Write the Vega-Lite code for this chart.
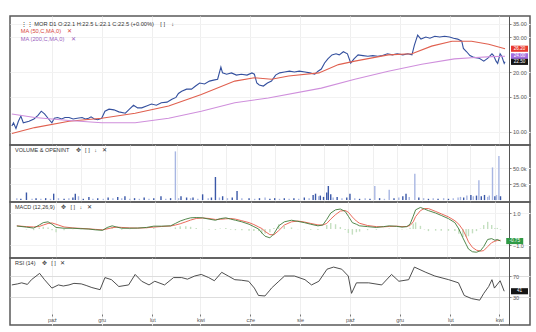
{
  "$schema": "https://vega.github.io/schema/vega-lite/v6.json",
  "padding": {"left": 8, "top": 15, "right": 0, "bottom": 0},
  "spacing": 0,
  "bounds": "flush",
  "resolve": {"scale": {"color": "independent", "fill": "independent"}, "legend": {"color": "independent", "fill": "independent"}},
  "config": {
    "view": {"stroke": "#5a5a5a", "strokeWidth": 1.5},
    "font": "Liberation Sans",
    "axis": {"labelFont": "Liberation Sans", "labelFontSize": 5.5, "labelColor": "#555555", "gridColor": "#eeeeee", "tickColor": "#888888", "domainColor": "#555555"}
  },
  "datasets": {
    "price": [
      {"date":"2022-08-13","series":"MOR","value":10.7},{"date":"2022-08-15","series":"MOR","value":11.1},{"date":"2022-08-18","series":"MOR","value":10.4},{"date":"2022-08-21","series":"MOR","value":11.3},{"date":"2022-08-24","series":"MOR","value":12.0},{"date":"2022-08-27","series":"MOR","value":11.1},{"date":"2022-09-03","series":"MOR","value":11.3},{"date":"2022-09-09","series":"MOR","value":11.6},{"date":"2022-09-14","series":"MOR","value":12.1},{"date":"2022-09-18","series":"MOR","value":12.7},{"date":"2022-09-22","series":"MOR","value":12.3},{"date":"2022-09-27","series":"MOR","value":11.6},{"date":"2022-10-01","series":"MOR","value":11.1},{"date":"2022-10-04","series":"MOR","value":11.7},{"date":"2022-10-08","series":"MOR","value":11.8},{"date":"2022-10-13","series":"MOR","value":11.6},{"date":"2022-10-17","series":"MOR","value":11.8},{"date":"2022-10-22","series":"MOR","value":11.8},{"date":"2022-10-27","series":"MOR","value":11.6},{"date":"2022-11-01","series":"MOR","value":11.7},{"date":"2022-11-07","series":"MOR","value":11.8},{"date":"2022-11-11","series":"MOR","value":11.6},{"date":"2022-11-15","series":"MOR","value":11.7},{"date":"2022-11-18","series":"MOR","value":11.9},{"date":"2022-11-22","series":"MOR","value":11.6},{"date":"2022-11-26","series":"MOR","value":11.5},{"date":"2022-12-01","series":"MOR","value":11.7},{"date":"2022-12-05","series":"MOR","value":12.7},{"date":"2022-12-10","series":"MOR","value":13.0},{"date":"2022-12-16","series":"MOR","value":12.9},{"date":"2022-12-22","series":"MOR","value":12.6},{"date":"2022-12-30","series":"MOR","value":12.4},{"date":"2023-01-04","series":"MOR","value":13.0},{"date":"2023-01-09","series":"MOR","value":13.6},{"date":"2023-01-14","series":"MOR","value":13.2},{"date":"2023-01-19","series":"MOR","value":13.2},{"date":"2023-01-25","series":"MOR","value":13.5},{"date":"2023-01-31","series":"MOR","value":13.8},{"date":"2023-02-06","series":"MOR","value":13.6},{"date":"2023-02-12","series":"MOR","value":14.0},{"date":"2023-02-19","series":"MOR","value":14.1},{"date":"2023-02-25","series":"MOR","value":14.6},{"date":"2023-03-02","series":"MOR","value":14.9},{"date":"2023-03-05","series":"MOR","value":15.6},{"date":"2023-03-09","series":"MOR","value":16.0},{"date":"2023-03-15","series":"MOR","value":16.4},{"date":"2023-03-21","series":"MOR","value":16.4},{"date":"2023-03-26","series":"MOR","value":17.0},{"date":"2023-03-31","series":"MOR","value":17.6},{"date":"2023-04-06","series":"MOR","value":17.4},{"date":"2023-04-12","series":"MOR","value":18.0},{"date":"2023-04-17","series":"MOR","value":18.2},{"date":"2023-04-22","series":"MOR","value":18.4},{"date":"2023-04-26","series":"MOR","value":21.2},{"date":"2023-04-28","series":"MOR","value":19.8},{"date":"2023-05-03","series":"MOR","value":19.5},{"date":"2023-05-09","series":"MOR","value":19.8},{"date":"2023-05-15","series":"MOR","value":19.3},{"date":"2023-05-21","series":"MOR","value":19.5},{"date":"2023-05-28","series":"MOR","value":19.3},{"date":"2023-06-03","series":"MOR","value":19.8},{"date":"2023-06-06","series":"MOR","value":19.5},{"date":"2023-06-09","series":"MOR","value":17.6},{"date":"2023-06-12","series":"MOR","value":17.2},{"date":"2023-06-17","series":"MOR","value":17.0},{"date":"2023-06-22","series":"MOR","value":17.6},{"date":"2023-06-27","series":"MOR","value":18.0},{"date":"2023-07-02","series":"MOR","value":19.3},{"date":"2023-07-07","series":"MOR","value":19.8},{"date":"2023-07-13","series":"MOR","value":20.0},{"date":"2023-07-19","series":"MOR","value":20.2},{"date":"2023-07-25","series":"MOR","value":20.0},{"date":"2023-07-31","series":"MOR","value":20.2},{"date":"2023-08-07","series":"MOR","value":20.0},{"date":"2023-08-13","series":"MOR","value":19.8},{"date":"2023-08-19","series":"MOR","value":19.5},{"date":"2023-08-23","series":"MOR","value":20.2},{"date":"2023-08-27","series":"MOR","value":20.7},{"date":"2023-08-31","series":"MOR","value":22.2},{"date":"2023-09-04","series":"MOR","value":23.3},{"date":"2023-09-09","series":"MOR","value":24.4},{"date":"2023-09-14","series":"MOR","value":24.7},{"date":"2023-09-18","series":"MOR","value":24.4},{"date":"2023-09-23","series":"MOR","value":25.3},{"date":"2023-09-28","series":"MOR","value":24.7},{"date":"2023-10-02","series":"MOR","value":22.2},{"date":"2023-10-06","series":"MOR","value":23.3},{"date":"2023-10-11","series":"MOR","value":24.4},{"date":"2023-10-17","series":"MOR","value":24.2},{"date":"2023-10-23","series":"MOR","value":24.0},{"date":"2023-10-29","series":"MOR","value":24.2},{"date":"2023-11-04","series":"MOR","value":24.0},{"date":"2023-11-10","series":"MOR","value":24.2},{"date":"2023-11-16","series":"MOR","value":24.7},{"date":"2023-11-22","series":"MOR","value":24.4},{"date":"2023-11-28","series":"MOR","value":24.7},{"date":"2023-12-05","series":"MOR","value":24.4},{"date":"2023-12-11","series":"MOR","value":24.7},{"date":"2023-12-16","series":"MOR","value":24.4},{"date":"2023-12-19","series":"MOR","value":27.3},{"date":"2023-12-23","series":"MOR","value":30.7},{"date":"2023-12-27","series":"MOR","value":29.3},{"date":"2024-01-02","series":"MOR","value":30.0},{"date":"2024-01-07","series":"MOR","value":29.6},{"date":"2024-01-13","series":"MOR","value":30.3},{"date":"2024-01-19","series":"MOR","value":30.0},{"date":"2024-01-25","series":"MOR","value":30.3},{"date":"2024-01-31","series":"MOR","value":30.0},{"date":"2024-02-05","series":"MOR","value":29.6},{"date":"2024-02-10","series":"MOR","value":29.3},{"date":"2024-02-15","series":"MOR","value":28.6},{"date":"2024-02-17","series":"MOR","value":26.3},{"date":"2024-02-21","series":"MOR","value":25.3},{"date":"2024-02-25","series":"MOR","value":24.2},{"date":"2024-03-01","series":"MOR","value":23.7},{"date":"2024-03-07","series":"MOR","value":23.5},{"date":"2024-03-13","series":"MOR","value":22.7},{"date":"2024-03-18","series":"MOR","value":23.5},{"date":"2024-03-23","series":"MOR","value":24.7},{"date":"2024-03-25","series":"MOR","value":24.2},{"date":"2024-03-28","series":"MOR","value":22.7},{"date":"2024-03-30","series":"MOR","value":22.1},{"date":"2024-04-02","series":"MOR","value":24.7},{"date":"2024-04-04","series":"MOR","value":24.0},{"date":"2024-04-07","series":"MOR","value":22.1},{"date":"2024-04-08","series":"MOR","value":22.5},
      {"date":"2022-08-13","series":"MA50","value":9.8},{"date":"2022-09-10","series":"MA50","value":10.5},{"date":"2022-10-22","series":"MA50","value":11.3},{"date":"2022-12-01","series":"MA50","value":11.7},{"date":"2023-01-11","series":"MA50","value":12.4},{"date":"2023-02-21","series":"MA50","value":13.5},{"date":"2023-04-02","series":"MA50","value":15.4},{"date":"2023-05-13","series":"MA50","value":18.0},{"date":"2023-06-06","series":"MA50","value":18.7},{"date":"2023-06-27","series":"MA50","value":18.4},{"date":"2023-07-18","series":"MA50","value":19.1},{"date":"2023-08-24","series":"MA50","value":19.8},{"date":"2023-09-17","series":"MA50","value":21.8},{"date":"2023-10-07","series":"MA50","value":22.7},{"date":"2023-11-17","series":"MA50","value":24.4},{"date":"2023-12-16","series":"MA50","value":24.7},{"date":"2024-01-09","series":"MA50","value":27.0},{"date":"2024-02-03","series":"MA50","value":28.6},{"date":"2024-02-27","series":"MA50","value":28.6},{"date":"2024-03-19","series":"MA50","value":27.6},{"date":"2024-04-08","series":"MA50","value":26.2},
      {"date":"2022-08-13","series":"MA200","value":12.3},{"date":"2022-09-10","series":"MA200","value":11.8},{"date":"2022-10-22","series":"MA200","value":11.4},{"date":"2022-12-01","series":"MA200","value":11.1},{"date":"2023-01-11","series":"MA200","value":11.1},{"date":"2023-02-21","series":"MA200","value":11.7},{"date":"2023-04-02","series":"MA200","value":12.7},{"date":"2023-05-13","series":"MA200","value":14.0},{"date":"2023-06-23","series":"MA200","value":14.8},{"date":"2023-08-27","series":"MA200","value":16.6},{"date":"2023-10-07","series":"MA200","value":18.4},{"date":"2023-11-17","series":"MA200","value":20.2},{"date":"2023-12-28","series":"MA200","value":21.9},{"date":"2024-02-06","series":"MA200","value":23.3},{"date":"2024-02-27","series":"MA200","value":23.6},{"date":"2024-03-23","series":"MA200","value":23.9},{"date":"2024-04-08","series":"MA200","value":24.0}
    ],
    "priceTags": [
      {"tag":"tMA50","value":26.2,"label":"26.20"},
      {"tag":"tMA200","value":24.0,"label":"24.00"},
      {"tag":"tMOR","value":22.5,"label":"22.50"}
    ],
    "volume": [
      {"date":"2022-08-13","v":3000,"dir":"down"},{"date":"2022-08-18","v":2000,"dir":"up"},{"date":"2022-08-25","v":12000,"dir":"up"},{"date":"2022-09-01","v":2000,"dir":"down"},{"date":"2022-09-06","v":3000,"dir":"up"},{"date":"2022-09-12","v":2000,"dir":"down"},{"date":"2022-09-18","v":3000,"dir":"up"},{"date":"2022-09-24","v":2000,"dir":"down"},{"date":"2022-09-28","v":10000,"dir":"up"},{"date":"2022-10-04","v":3000,"dir":"down"},{"date":"2022-10-11","v":2000,"dir":"up"},{"date":"2022-10-17","v":3000,"dir":"down"},{"date":"2022-10-22","v":4000,"dir":"up"},{"date":"2022-10-25","v":10000,"dir":"up"},{"date":"2022-10-29","v":6000,"dir":"down"},{"date":"2022-11-04","v":2000,"dir":"up"},{"date":"2022-11-11","v":5000,"dir":"up"},{"date":"2022-11-16","v":2000,"dir":"down"},{"date":"2022-11-22","v":3000,"dir":"up"},{"date":"2022-11-29","v":2000,"dir":"down"},{"date":"2022-12-05","v":4000,"dir":"up"},{"date":"2022-12-11","v":3000,"dir":"down"},{"date":"2022-12-17","v":5000,"dir":"up"},{"date":"2022-12-22","v":3000,"dir":"down"},{"date":"2022-12-26","v":6000,"dir":"up"},{"date":"2023-01-01","v":2000,"dir":"down"},{"date":"2023-01-07","v":3000,"dir":"up"},{"date":"2023-01-13","v":2000,"dir":"down"},{"date":"2023-01-19","v":4000,"dir":"up"},{"date":"2023-01-25","v":2000,"dir":"down"},{"date":"2023-01-31","v":3000,"dir":"up"},{"date":"2023-02-09","v":6000,"dir":"up"},{"date":"2023-02-15","v":2000,"dir":"down"},{"date":"2023-02-21","v":3000,"dir":"up"},{"date":"2023-02-27","v":76000,"dir":"down"},{"date":"2023-03-03","v":3000,"dir":"down"},{"date":"2023-03-06","v":6000,"dir":"up"},{"date":"2023-03-13","v":4000,"dir":"up"},{"date":"2023-03-18","v":3000,"dir":"down"},{"date":"2023-03-21","v":4000,"dir":"up"},{"date":"2023-03-27","v":2000,"dir":"down"},{"date":"2023-04-02","v":9000,"dir":"up"},{"date":"2023-04-09","v":3000,"dir":"down"},{"date":"2023-04-13","v":4000,"dir":"up"},{"date":"2023-04-18","v":36000,"dir":"up"},{"date":"2023-04-23","v":4000,"dir":"down"},{"date":"2023-04-27","v":6000,"dir":"up"},{"date":"2023-05-03","v":3000,"dir":"down"},{"date":"2023-05-09","v":4000,"dir":"up"},{"date":"2023-05-15","v":14000,"dir":"up"},{"date":"2023-05-21","v":3000,"dir":"down"},{"date":"2023-05-30","v":3000,"dir":"up"},{"date":"2023-06-06","v":2000,"dir":"down"},{"date":"2023-06-12","v":3000,"dir":"up"},{"date":"2023-06-19","v":4000,"dir":"down"},{"date":"2023-06-25","v":2000,"dir":"up"},{"date":"2023-07-01","v":3000,"dir":"up"},{"date":"2023-07-07","v":2000,"dir":"down"},{"date":"2023-07-13","v":3000,"dir":"up"},{"date":"2023-07-19","v":2000,"dir":"down"},{"date":"2023-07-25","v":3000,"dir":"up"},{"date":"2023-07-31","v":2000,"dir":"down"},{"date":"2023-08-07","v":4000,"dir":"up"},{"date":"2023-08-13","v":3000,"dir":"down"},{"date":"2023-08-18","v":8000,"dir":"up"},{"date":"2023-08-21","v":10000,"dir":"up"},{"date":"2023-08-25","v":6000,"dir":"down"},{"date":"2023-08-27","v":7000,"dir":"up"},{"date":"2023-08-31","v":5000,"dir":"up"},{"date":"2023-09-04","v":12000,"dir":"up"},{"date":"2023-09-06","v":22000,"dir":"up"},{"date":"2023-09-09","v":9000,"dir":"up"},{"date":"2023-09-12","v":4000,"dir":"down"},{"date":"2023-09-17","v":5000,"dir":"up"},{"date":"2023-09-23","v":3000,"dir":"down"},{"date":"2023-09-29","v":4000,"dir":"up"},{"date":"2023-10-03","v":10000,"dir":"up"},{"date":"2023-10-09","v":3000,"dir":"down"},{"date":"2023-10-15","v":2000,"dir":"up"},{"date":"2023-10-22","v":3000,"dir":"down"},{"date":"2023-10-28","v":2000,"dir":"up"},{"date":"2023-11-03","v":22000,"dir":"down"},{"date":"2023-11-09","v":3000,"dir":"up"},{"date":"2023-11-15","v":2000,"dir":"down"},{"date":"2023-11-21","v":16000,"dir":"down"},{"date":"2023-11-27","v":3000,"dir":"up"},{"date":"2023-12-03","v":4000,"dir":"down"},{"date":"2023-12-08","v":6000,"dir":"up"},{"date":"2023-12-12","v":10000,"dir":"up"},{"date":"2023-12-16","v":5000,"dir":"down"},{"date":"2023-12-23","v":41000,"dir":"down"},{"date":"2023-12-28","v":4000,"dir":"up"},{"date":"2024-01-03","v":3000,"dir":"down"},{"date":"2024-01-09","v":2000,"dir":"up"},{"date":"2024-01-15","v":3000,"dir":"down"},{"date":"2024-01-21","v":2000,"dir":"up"},{"date":"2024-01-28","v":3000,"dir":"down"},{"date":"2024-02-03","v":2000,"dir":"up"},{"date":"2024-02-09","v":3000,"dir":"down"},{"date":"2024-02-15","v":4000,"dir":"down"},{"date":"2024-02-18","v":5000,"dir":"down"},{"date":"2024-02-22","v":4000,"dir":"up"},{"date":"2024-02-26","v":7000,"dir":"down"},{"date":"2024-03-02","v":8000,"dir":"up"},{"date":"2024-03-05","v":6000,"dir":"down"},{"date":"2024-03-09","v":7000,"dir":"up"},{"date":"2024-03-12","v":31000,"dir":"down"},{"date":"2024-03-15","v":6000,"dir":"up"},{"date":"2024-03-19","v":8000,"dir":"up"},{"date":"2024-03-23","v":5000,"dir":"down"},{"date":"2024-03-25","v":7000,"dir":"down"},{"date":"2024-03-29","v":51000,"dir":"down"},{"date":"2024-04-01","v":6000,"dir":"up"},{"date":"2024-04-03","v":8000,"dir":"down"},{"date":"2024-04-06","v":69000,"dir":"down"},{"date":"2024-04-08","v":6000,"dir":"up"}
    ],
    "macd": [
      {"date":"2022-08-13","macd":0.19,"signal":0.20,"hist":-0.01},{"date":"2022-08-25","macd":0.12,"signal":0.15,"hist":-0.03},{"date":"2022-09-03","macd":0.06,"signal":0.13,"hist":-0.07},{"date":"2022-09-10","macd":0.25,"signal":0.16,"hist":0.09},{"date":"2022-09-15","macd":0.40,"signal":0.25,"hist":0.15},{"date":"2022-09-21","macd":0.45,"signal":0.35,"hist":0.10},{"date":"2022-09-26","macd":0.30,"signal":0.38,"hist":-0.08},{"date":"2022-10-01","macd":0.10,"signal":0.30,"hist":-0.20},{"date":"2022-10-11","macd":0.05,"signal":0.13,"hist":-0.08},{"date":"2022-10-22","macd":0.05,"signal":0.07,"hist":-0.02},{"date":"2022-11-01","macd":0.02,"signal":0.04,"hist":-0.02},{"date":"2022-11-11","macd":0.00,"signal":0.01,"hist":-0.01},{"date":"2022-11-19","macd":-0.05,"signal":-0.02,"hist":-0.03},{"date":"2022-11-28","macd":-0.08,"signal":-0.05,"hist":-0.03},{"date":"2022-12-04","macd":0.10,"signal":0.01,"hist":0.09},{"date":"2022-12-10","macd":0.20,"signal":0.08,"hist":0.12},{"date":"2022-12-16","macd":0.12,"signal":0.12,"hist":0.00},{"date":"2022-12-22","macd":0.05,"signal":0.10,"hist":-0.05},{"date":"2023-01-01","macd":0.05,"signal":0.07,"hist":-0.02},{"date":"2023-01-11","macd":0.06,"signal":0.06,"hist":0.00},{"date":"2023-01-22","macd":0.10,"signal":0.08,"hist":0.02},{"date":"2023-01-31","macd":0.18,"signal":0.12,"hist":0.06},{"date":"2023-02-10","macd":0.18,"signal":0.16,"hist":0.02},{"date":"2023-02-21","macd":0.20,"signal":0.19,"hist":0.01},{"date":"2023-02-27","macd":0.35,"signal":0.25,"hist":0.10},{"date":"2023-03-05","macd":0.50,"signal":0.33,"hist":0.17},{"date":"2023-03-12","macd":0.62,"signal":0.45,"hist":0.17},{"date":"2023-03-18","macd":0.70,"signal":0.56,"hist":0.14},{"date":"2023-03-25","macd":0.72,"signal":0.66,"hist":0.06},{"date":"2023-04-02","macd":0.70,"signal":0.69,"hist":0.01},{"date":"2023-04-10","macd":0.62,"signal":0.66,"hist":-0.04},{"date":"2023-04-18","macd":0.55,"signal":0.60,"hist":-0.05},{"date":"2023-04-24","macd":0.65,"signal":0.61,"hist":0.04},{"date":"2023-05-01","macd":0.70,"signal":0.64,"hist":0.06},{"date":"2023-05-07","macd":0.62,"signal":0.66,"hist":-0.04},{"date":"2023-05-13","macd":0.55,"signal":0.62,"hist":-0.07},{"date":"2023-05-21","macd":0.45,"signal":0.52,"hist":-0.07},{"date":"2023-05-30","macd":0.30,"signal":0.40,"hist":-0.10},{"date":"2023-06-05","macd":0.15,"signal":0.28,"hist":-0.13},{"date":"2023-06-11","macd":0.00,"signal":0.13,"hist":-0.13},{"date":"2023-06-15","macd":-0.25,"signal":0.03,"hist":-0.28},{"date":"2023-06-19","macd":-0.45,"signal":-0.15,"hist":-0.30},{"date":"2023-06-25","macd":-0.55,"signal":-0.35,"hist":-0.20},{"date":"2023-06-30","macd":-0.30,"signal":-0.36,"hist":0.06},{"date":"2023-07-06","macd":0.20,"signal":-0.10,"hist":0.30},{"date":"2023-07-13","macd":0.45,"signal":0.25,"hist":0.20},{"date":"2023-07-22","macd":0.55,"signal":0.45,"hist":0.10},{"date":"2023-07-30","macd":0.48,"signal":0.50,"hist":-0.02},{"date":"2023-08-07","macd":0.40,"signal":0.44,"hist":-0.04},{"date":"2023-08-15","macd":0.30,"signal":0.35,"hist":-0.05},{"date":"2023-08-24","macd":0.20,"signal":0.26,"hist":-0.06},{"date":"2023-08-30","macd":0.25,"signal":0.25,"hist":0.00},{"date":"2023-09-04","macd":0.60,"signal":0.35,"hist":0.25},{"date":"2023-09-09","macd":1.00,"signal":0.62,"hist":0.38},{"date":"2023-09-15","macd":1.20,"signal":0.90,"hist":0.30},{"date":"2023-09-21","macd":1.25,"signal":1.12,"hist":0.13},{"date":"2023-09-27","macd":1.10,"signal":1.16,"hist":-0.06},{"date":"2023-10-01","macd":0.80,"signal":1.05,"hist":-0.25},{"date":"2023-10-06","macd":0.40,"signal":0.75,"hist":-0.35},{"date":"2023-10-11","macd":0.30,"signal":0.50,"hist":-0.20},{"date":"2023-10-15","macd":0.20,"signal":0.36,"hist":-0.16},{"date":"2023-10-25","macd":0.15,"signal":0.22,"hist":-0.07},{"date":"2023-11-05","macd":0.10,"signal":0.15,"hist":-0.05},{"date":"2023-11-14","macd":0.15,"signal":0.14,"hist":0.01},{"date":"2023-11-21","macd":0.20,"signal":0.16,"hist":0.04},{"date":"2023-11-30","macd":0.17,"signal":0.18,"hist":-0.01},{"date":"2023-12-07","macd":0.12,"signal":0.15,"hist":-0.03},{"date":"2023-12-13","macd":0.15,"signal":0.16,"hist":-0.01},{"date":"2023-12-17","macd":0.30,"signal":0.22,"hist":0.08},{"date":"2023-12-21","macd":0.80,"signal":0.45,"hist":0.35},{"date":"2023-12-24","macd":1.20,"signal":0.78,"hist":0.42},{"date":"2023-12-30","macd":1.35,"signal":1.15,"hist":0.20},{"date":"2024-01-04","macd":1.25,"signal":1.28,"hist":-0.03},{"date":"2024-01-09","macd":1.15,"signal":1.28,"hist":-0.13},{"date":"2024-01-18","macd":1.00,"signal":1.10,"hist":-0.10},{"date":"2024-01-25","macd":0.85,"signal":0.95,"hist":-0.10},{"date":"2024-02-03","macd":0.65,"signal":0.76,"hist":-0.11},{"date":"2024-02-11","macd":0.40,"signal":0.52,"hist":-0.12},{"date":"2024-02-16","macd":0.00,"signal":0.30,"hist":-0.30},{"date":"2024-02-21","macd":-0.55,"signal":-0.05,"hist":-0.50},{"date":"2024-02-25","macd":-0.95,"signal":-0.45,"hist":-0.50},{"date":"2024-02-28","macd":-1.25,"signal":-0.80,"hist":-0.45},{"date":"2024-03-04","macd":-1.42,"signal":-1.15,"hist":-0.27},{"date":"2024-03-09","macd":-1.45,"signal":-1.32,"hist":-0.13},{"date":"2024-03-14","macd":-1.35,"signal":-1.38,"hist":0.03},{"date":"2024-03-18","macd":-1.10,"signal":-1.35,"hist":0.25},{"date":"2024-03-23","macd":-0.65,"signal":-1.10,"hist":0.45},{"date":"2024-03-28","macd":-0.60,"signal":-0.85,"hist":0.25},{"date":"2024-04-01","macd":-0.70,"signal":-0.76,"hist":0.06},{"date":"2024-04-04","macd":-0.65,"signal":-0.72,"hist":0.07},{"date":"2024-04-08","macd":-0.75,"signal":-0.70,"hist":-0.05}
    ],
    "macdTag": [{"value":-0.75,"label":"-0.75"}],
    "rsi": [
      {"date":"2022-08-13","rsi":53},{"date":"2022-08-20","rsi":55},{"date":"2022-08-25","rsi":57},{"date":"2022-09-01","rsi":54},{"date":"2022-09-06","rsi":63},{"date":"2022-09-16","rsi":75},{"date":"2022-09-22","rsi":63},{"date":"2022-10-01","rsi":47},{"date":"2022-10-09","rsi":53},{"date":"2022-10-15","rsi":51},{"date":"2022-10-22","rsi":53},{"date":"2022-10-28","rsi":56},{"date":"2022-11-06","rsi":55},{"date":"2022-11-12","rsi":52},{"date":"2022-11-19","rsi":48},{"date":"2022-11-29","rsi":44},{"date":"2022-12-05","rsi":67},{"date":"2022-12-13","rsi":63},{"date":"2022-12-22","rsi":50},{"date":"2023-01-03","rsi":53},{"date":"2023-01-11","rsi":73},{"date":"2023-01-19","rsi":60},{"date":"2023-01-28","rsi":53},{"date":"2023-02-04","rsi":60},{"date":"2023-02-16","rsi":53},{"date":"2023-02-27","rsi":67},{"date":"2023-03-09","rsi":67},{"date":"2023-03-16","rsi":64},{"date":"2023-03-25","rsi":70},{"date":"2023-04-02","rsi":73},{"date":"2023-04-11","rsi":67},{"date":"2023-04-18","rsi":61},{"date":"2023-04-27","rsi":77},{"date":"2023-05-05","rsi":70},{"date":"2023-05-13","rsi":63},{"date":"2023-05-21","rsi":62},{"date":"2023-05-30","rsi":60},{"date":"2023-06-06","rsi":47},{"date":"2023-06-11","rsi":33},{"date":"2023-06-19","rsi":32},{"date":"2023-06-25","rsi":43},{"date":"2023-06-27","rsi":47},{"date":"2023-07-06","rsi":60},{"date":"2023-07-13","rsi":70},{"date":"2023-07-25","rsi":70},{"date":"2023-08-07","rsi":63},{"date":"2023-08-15","rsi":53},{"date":"2023-08-24","rsi":60},{"date":"2023-09-03","rsi":83},{"date":"2023-09-11","rsi":87},{"date":"2023-09-21","rsi":83},{"date":"2023-09-29","rsi":70},{"date":"2023-10-03","rsi":37},{"date":"2023-10-09","rsi":57},{"date":"2023-10-24","rsi":57},{"date":"2023-11-09","rsi":53},{"date":"2023-11-21","rsi":73},{"date":"2023-11-30","rsi":60},{"date":"2023-12-12","rsi":63},{"date":"2023-12-19","rsi":87},{"date":"2024-01-02","rsi":77},{"date":"2024-01-13","rsi":70},{"date":"2024-01-30","rsi":63},{"date":"2024-02-11","rsi":57},{"date":"2024-02-18","rsi":33},{"date":"2024-02-27","rsi":27},{"date":"2024-03-08","rsi":24},{"date":"2024-03-13","rsi":37},{"date":"2024-03-19","rsi":50},{"date":"2024-03-23","rsi":63},{"date":"2024-03-26","rsi":47},{"date":"2024-04-02","rsi":61},{"date":"2024-04-07","rsi":41}
    ],
    "rsiTag": [{"value":41,"label":"41"}]
  },
  "vconcat": [
    {
      "width": 520, "height": 129,
      "layer": [
        {
          "data": {"name": "price"},
          "mark": {"type": "line", "strokeWidth": 1.1},
          "encoding": {
            "x": {"field": "date", "type": "temporal",
              "scale": {"type": "utc", "nice": false, "domain": [{"year":2022,"month":8,"date":10,"hours":17,"utc":true},{"year":2024,"month":5,"date":8,"hours":14,"utc":true}]},
              "axis": {"title": null, "labels": false, "ticks": false, "domain": false, "grid": true, "gridColor": "#efefef",
                "values": [{"year":2022,"month":10,"date":1,"utc":true},{"year":2022,"month":11,"date":1,"utc":true},{"year":2022,"month":12,"date":1,"utc":true},{"year":2023,"month":1,"date":1,"utc":true},{"year":2023,"month":2,"date":1,"utc":true},{"year":2023,"month":3,"date":1,"utc":true},{"year":2023,"month":4,"date":1,"utc":true},{"year":2023,"month":5,"date":1,"utc":true},{"year":2023,"month":6,"date":1,"utc":true},{"year":2023,"month":7,"date":1,"utc":true},{"year":2023,"month":8,"date":1,"utc":true},{"year":2023,"month":9,"date":1,"utc":true},{"year":2023,"month":10,"date":1,"utc":true},{"year":2023,"month":11,"date":1,"utc":true},{"year":2023,"month":12,"date":1,"utc":true},{"year":2024,"month":1,"date":1,"utc":true},{"year":2024,"month":2,"date":1,"utc":true},{"year":2024,"month":3,"date":1,"utc":true},{"year":2024,"month":4,"date":1,"utc":true}]}},
            "y": {"field": "value", "type": "quantitative",
              "scale": {"type": "log", "domain": [8.58, 38.3], "nice": false, "zero": false},
              "axis": {"title": null, "orient": "right", "offset": -21, "values": [10, 15, 20, 30, 35], "format": ".2f", "grid": true, "gridColor": "#f2f2f2", "tickSize": 2, "labelPadding": 1.5}},
            "color": {"field": "series", "type": "nominal",
              "scale": {"domain": ["MOR", "MA50", "MA200"], "range": ["#34509e", "#e0604f", "#cf8fdc"]},
              "legend": {"orient": "top-left", "offset": 5, "title": null, "padding": 0,
                "symbolSize": 0, "symbolOpacity": 0, "symbolStrokeWidth": 0, "labelOffset": 0,
                "labelFont": "Liberation Sans", "labelFontSize": 5.7, "labelLimit": 400, "rowPadding": 0.5,
                "labelExpr": "datum.value == 'MOR' ? '⋮⋮ MOR D1 O:22.1 H:22.5 L:22.1 C:22.5 (+0.00%)\u00a0\u00a0\u00a0\u00a0[ ]\u00a0\u00a0\u00a0\u00a0↓' : datum.value == 'MA50' ? 'MA (50,C,MA,0)\u00a0\u00a0\u00a0\u00a0✕' : 'MA (200,C,MA,0)\u00a0\u00a0\u00a0\u00a0✕'",
                "encode": {"labels": {"update": {"fill": {"signal": "datum.value == 'MOR' ? '#333333' : datum.value == 'MA50' ? '#d9463b' : '#9b5fc0'"}}}}}}
          }
        },
        {
          "data": {"name": "priceTags"},
          "mark": {"type": "point", "shape": "M-1,-0.36H1V0.36H-1Z", "size": 289, "filled": true, "opacity": 1, "strokeWidth": 0},
          "encoding": {
            "x": {"datum": {"year":2024,"month":4,"date":25,"hours":18,"utc":true}, "type": "temporal"},
            "y": {"field": "value", "type": "quantitative"},
            "fill": {"field": "tag", "type": "nominal", "scale": {"domain": ["tMOR", "tMA50", "tMA200"], "range": ["#151515", "#e8392f", "#a46ee0"]}, "legend": null}
          }
        },
        {
          "data": {"name": "priceTags"},
          "mark": {"type": "text", "fontSize": 4.6, "color": "#ffffff", "align": "center", "baseline": "middle", "font": "Liberation Sans"},
          "encoding": {
            "x": {"datum": {"year":2024,"month":4,"date":25,"hours":18,"utc":true}, "type": "temporal"},
            "y": {"field": "value", "type": "quantitative"},
            "text": {"field": "label"}
          }
        }
      ]
    },
    {
      "width": 520, "height": 57,
      "title": {"text": "VOLUME & OPENINT\u00a0\u00a0\u00a0\u00a0✥\u00a0\u00a0\u00a0[ ]\u00a0\u00a0\u00a0↓\u00a0\u00a0\u00a0✕", "anchor": "start", "frame": "group", "offset": -8.5, "dx": 5, "fontSize": 5.5, "fontWeight": "normal", "color": "#333333", "font": "Liberation Sans"},
      "data": {"name": "volume"},
      "mark": {"type": "bar", "width": 1.4},
      "encoding": {
        "x": {"field": "date", "type": "temporal",
          "scale": {"type": "utc", "nice": false, "domain": [{"year":2022,"month":8,"date":10,"hours":17,"utc":true},{"year":2024,"month":5,"date":8,"hours":14,"utc":true}]},
          "axis": {"title": null, "labels": false, "ticks": false, "domain": false, "grid": true, "gridColor": "#efefef",
            "values": [{"year":2022,"month":10,"date":1,"utc":true},{"year":2022,"month":11,"date":1,"utc":true},{"year":2022,"month":12,"date":1,"utc":true},{"year":2023,"month":1,"date":1,"utc":true},{"year":2023,"month":2,"date":1,"utc":true},{"year":2023,"month":3,"date":1,"utc":true},{"year":2023,"month":4,"date":1,"utc":true},{"year":2023,"month":5,"date":1,"utc":true},{"year":2023,"month":6,"date":1,"utc":true},{"year":2023,"month":7,"date":1,"utc":true},{"year":2023,"month":8,"date":1,"utc":true},{"year":2023,"month":9,"date":1,"utc":true},{"year":2023,"month":10,"date":1,"utc":true},{"year":2023,"month":11,"date":1,"utc":true},{"year":2023,"month":12,"date":1,"utc":true},{"year":2024,"month":1,"date":1,"utc":true},{"year":2024,"month":2,"date":1,"utc":true},{"year":2024,"month":3,"date":1,"utc":true},{"year":2024,"month":4,"date":1,"utc":true}]}},
        "y": {"field": "v", "type": "quantitative",
          "scale": {"domain": [-3000, 86000], "nice": false, "zero": false},
          "axis": {"title": null, "orient": "right", "offset": -21, "values": [25000, 50000], "labelExpr": "format(datum.value / 1000, '.1f') + 'k'", "grid": true, "gridColor": "#f2f2f2", "tickSize": 2, "labelPadding": 1.5}},
        "y2": {"datum": 0},
        "color": {"field": "dir", "type": "nominal", "scale": {"domain": ["up", "down"], "range": ["#3b58a8", "#a8b6e2"]}, "legend": null}
      }
    },
    {
      "width": 520, "height": 56,
      "title": {"text": "MACD (12,26,9)\u00a0\u00a0\u00a0\u00a0✥\u00a0\u00a0\u00a0[ ]\u00a0\u00a0\u00a0↓\u00a0\u00a0\u00a0✕", "anchor": "start", "frame": "group", "offset": -8.5, "dx": 5, "fontSize": 5.5, "fontWeight": "normal", "color": "#333333", "font": "Liberation Sans"},
      "layer": [
        {
          "data": {"name": "macd"},
          "mark": {"type": "bar", "width": 1.4, "color": "#c4dfc0"},
          "encoding": {
            "x": {"field": "date", "type": "temporal",
              "scale": {"type": "utc", "nice": false, "domain": [{"year":2022,"month":8,"date":10,"hours":17,"utc":true},{"year":2024,"month":5,"date":8,"hours":14,"utc":true}]},
              "axis": {"title": null, "labels": false, "ticks": false, "domain": false, "grid": true, "gridColor": "#efefef",
                "values": [{"year":2022,"month":10,"date":1,"utc":true},{"year":2022,"month":11,"date":1,"utc":true},{"year":2022,"month":12,"date":1,"utc":true},{"year":2023,"month":1,"date":1,"utc":true},{"year":2023,"month":2,"date":1,"utc":true},{"year":2023,"month":3,"date":1,"utc":true},{"year":2023,"month":4,"date":1,"utc":true},{"year":2023,"month":5,"date":1,"utc":true},{"year":2023,"month":6,"date":1,"utc":true},{"year":2023,"month":7,"date":1,"utc":true},{"year":2023,"month":8,"date":1,"utc":true},{"year":2023,"month":9,"date":1,"utc":true},{"year":2023,"month":10,"date":1,"utc":true},{"year":2023,"month":11,"date":1,"utc":true},{"year":2023,"month":12,"date":1,"utc":true},{"year":2024,"month":1,"date":1,"utc":true},{"year":2024,"month":2,"date":1,"utc":true},{"year":2024,"month":3,"date":1,"utc":true},{"year":2024,"month":4,"date":1,"utc":true}]}},
            "y": {"field": "hist", "type": "quantitative",
              "scale": {"domain": [-1.81, 1.69], "nice": false, "zero": false},
              "axis": {"title": null, "orient": "right", "offset": -21, "values": [-1, 0, 1], "format": ".1f", "grid": true, "gridColor": "#f2f2f2", "tickSize": 2, "labelPadding": 1.5}},
            "y2": {"datum": 0}
          }
        },
        {
          "data": {"name": "macd"},
          "mark": {"type": "line", "color": "#e85a4a", "strokeWidth": 0.9},
          "encoding": {
            "x": {"field": "date", "type": "temporal"},
            "y": {"field": "signal", "type": "quantitative"}
          }
        },
        {
          "data": {"name": "macd"},
          "mark": {"type": "line", "color": "#3f7a3a", "strokeWidth": 0.9},
          "encoding": {
            "x": {"field": "date", "type": "temporal"},
            "y": {"field": "macd", "type": "quantitative"}
          }
        },
        {
          "data": {"name": "macdTag"},
          "mark": {"type": "point", "shape": "M-1,-0.36H1V0.36H-1Z", "size": 289, "filled": true, "opacity": 1, "strokeWidth": 0, "color": "#2f9a45"},
          "encoding": {
            "x": {"datum": {"year":2024,"month":4,"date":25,"hours":18,"utc":true}, "type": "temporal"},
            "y": {"field": "value", "type": "quantitative"}
          }
        },
        {
          "data": {"name": "macdTag"},
          "mark": {"type": "text", "fontSize": 4.6, "color": "#ffffff", "align": "center", "baseline": "middle", "font": "Liberation Sans"},
          "encoding": {
            "x": {"datum": {"year":2024,"month":4,"date":25,"hours":18,"utc":true}, "type": "temporal"},
            "y": {"field": "value", "type": "quantitative"},
            "text": {"field": "label"}
          }
        }
      ]
    },
    {
      "width": 520, "height": 67,
      "title": {"text": "RSI (14)\u00a0\u00a0\u00a0\u00a0✥\u00a0\u00a0\u00a0[ ]\u00a0\u00a0\u00a0✕", "anchor": "start", "frame": "group", "offset": -8.5, "dx": 5, "fontSize": 5.5, "fontWeight": "normal", "color": "#333333", "font": "Liberation Sans"},
      "layer": [
        {
          "data": {"name": "rsi"},
          "mark": {"type": "line", "color": "#3a3a3a", "strokeWidth": 0.9},
          "encoding": {
            "x": {"field": "date", "type": "temporal",
              "scale": {"type": "utc", "nice": false, "domain": [{"year":2022,"month":8,"date":10,"hours":17,"utc":true},{"year":2024,"month":5,"date":8,"hours":14,"utc":true}]},
              "axis": {"title": null, "offset": -11, "domain": false, "ticks": true, "tickSize": 2, "tickColor": "#777777", "labelPadding": 1, "labelFontSize": 5.5, "labelColor": "#555555", "grid": true, "gridColor": "#efefef", "labelOverlap": false, "labelFlush": false,
                "labelExpr": "utcmonth(datum.value) == 0 ? '' + utcyear(datum.value) : ['sty','lut','mar','kwi','maj','cze','lip','sie','wrz','paź','lis','gru'][utcmonth(datum.value)]",
                "values": [{"year":2022,"month":10,"date":1,"utc":true},{"year":2022,"month":11,"date":1,"utc":true},{"year":2022,"month":12,"date":1,"utc":true},{"year":2023,"month":1,"date":1,"utc":true},{"year":2023,"month":2,"date":1,"utc":true},{"year":2023,"month":3,"date":1,"utc":true},{"year":2023,"month":4,"date":1,"utc":true},{"year":2023,"month":5,"date":1,"utc":true},{"year":2023,"month":6,"date":1,"utc":true},{"year":2023,"month":7,"date":1,"utc":true},{"year":2023,"month":8,"date":1,"utc":true},{"year":2023,"month":9,"date":1,"utc":true},{"year":2023,"month":10,"date":1,"utc":true},{"year":2023,"month":11,"date":1,"utc":true},{"year":2023,"month":12,"date":1,"utc":true},{"year":2024,"month":1,"date":1,"utc":true},{"year":2024,"month":2,"date":1,"utc":true},{"year":2024,"month":3,"date":1,"utc":true},{"year":2024,"month":4,"date":1,"utc":true}]}},
            "y": {"field": "rsi", "type": "quantitative",
              "scale": {"domain": [-23.3, 104.3], "nice": false, "zero": false},
              "axis": {"title": null, "orient": "right", "offset": -21, "values": [30, 70], "grid": true, "gridColor": "#dddddd", "tickSize": 2, "labelPadding": 1.5}}
          }
        },
        {
          "data": {"name": "rsiTag"},
          "mark": {"type": "point", "shape": "M-1,-0.36H1V0.36H-1Z", "size": 289, "filled": true, "opacity": 1, "strokeWidth": 0, "color": "#151515"},
          "encoding": {
            "x": {"datum": {"year":2024,"month":4,"date":25,"hours":18,"utc":true}, "type": "temporal"},
            "y": {"field": "value", "type": "quantitative"}
          }
        },
        {
          "data": {"name": "rsiTag"},
          "mark": {"type": "text", "fontSize": 4.6, "color": "#ffffff", "align": "center", "baseline": "middle", "font": "Liberation Sans"},
          "encoding": {
            "x": {"datum": {"year":2024,"month":4,"date":25,"hours":18,"utc":true}, "type": "temporal"},
            "y": {"field": "value", "type": "quantitative"},
            "text": {"field": "label"}
          }
        }
      ]
    }
  ]
}
